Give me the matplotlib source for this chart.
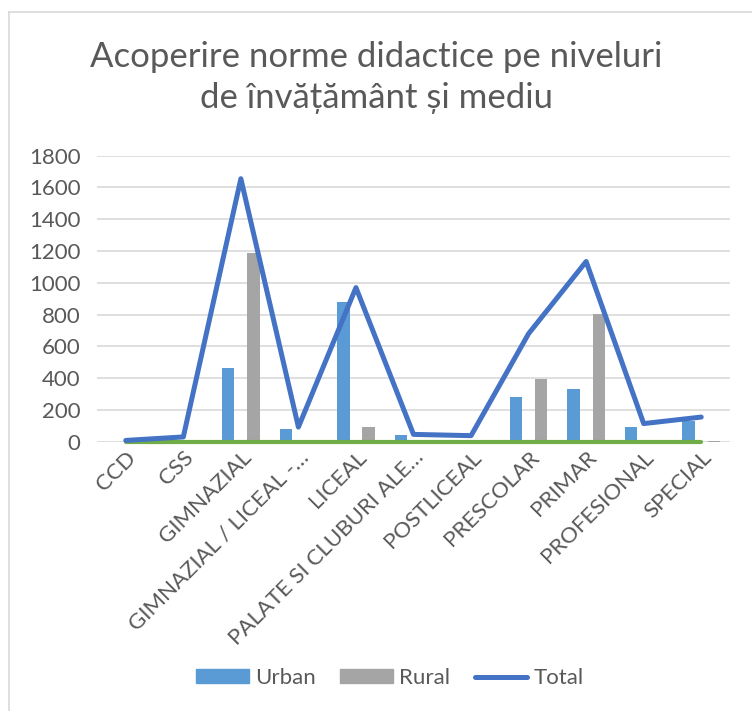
import numpy as np
import matplotlib
matplotlib.use("Agg")
import matplotlib.pyplot as plt
from matplotlib.patches import Patch
from matplotlib.lines import Line2D

# Data
categories = ["CCD", "CSS", "GIMNAZIAL", "GIMNAZIAL / LICEAL -…", "LICEAL",
              "PALATE SI CLUBURI ALE…", "POSTLICEAL", "PRESCOLAR", "PRIMAR",
              "PROFESIONAL", "SPECIAL"]
urban = [0, 0, 462, 83, 879, 40, 0, 281, 333, 94, 130]
rural = [0, 0, 1189, 0, 94, 0, 0, 396, 801, 10, 5]
total = [8, 30, 1655, 92, 970, 46, 38, 680, 1134, 114, 155]
zero_line = [0] * len(categories)

plt.rcParams["font.family"] = ["Lato", "DejaVu Sans"]
text_col = "#595959"
W, H = 752, 711

fig = plt.figure(figsize=(W / 100, H / 100), dpi=100)
# chart frame (only left and top edges are visible in the crop)
fig.add_artist(Line2D([9 / W, 9 / W], [0, 1 - 12 / H], transform=fig.transFigure,
                      color="#D9D9D9", lw=1.2))
fig.add_artist(Line2D([9 / W, 1], [1 - 12 / H, 1 - 12 / H], transform=fig.transFigure,
                      color="#D9D9D9", lw=1.2))

ax = fig.add_axes([97 / W, 1 - 441.7 / H, 633 / W, 286 / H])
x = np.arange(len(categories))
w = 0.217
ax.bar(x - 0.22, urban, w, color="#5B9BD5", zorder=2)
ax.bar(x + 0.22, rural, w, color="#A5A5A5", zorder=2)
ax.plot(x, zero_line, color="#70AD47", lw=3, solid_capstyle="round", zorder=3, clip_on=False)
ax.plot(x, total, color="#4472C4", lw=3.6, solid_capstyle="round", zorder=4, clip_on=False)

ax.set_xlim(-0.5, len(categories) - 0.5)
ax.set_ylim(0, 1800)
ax.set_yticks(range(0, 1801, 200))
ax.grid(axis="y", color="#D9D9D9", lw=1.2, zorder=0)
ax.set_axisbelow(True)
for s in ax.spines.values():
    s.set_visible(False)
ax.tick_params(axis="both", length=0, colors=text_col, labelsize=16)
ax.tick_params(axis="y", pad=12)
ax.tick_params(axis="x", pad=4)
ax.set_xticks(x)
ax.set_xticklabels(categories, rotation=45, ha="right", rotation_mode="anchor")

fig.text(0.5, 1 - 67 / H, "Acoperire norme didactice pe niveluri",
         ha="center", va="baseline", fontsize=25, color=text_col)
fig.text(0.5, 1 - 108 / H, "de învățământ și mediu",
         ha="center", va="baseline", fontsize=25, color=text_col)

handles = [Patch(color="#5B9BD5"), Patch(color="#A5A5A5"),
           Line2D([0], [0], color="#4472C4", lw=3.6, solid_capstyle="round")]
fig.legend(handles, ["Urban", "Rural", "Total"], loc="center",
           bbox_to_anchor=(0.5 + 14 / W, 1 - 678 / H), ncol=3, frameon=False,
           fontsize=16, labelcolor=text_col, handlelength=2.35, handleheight=0.6,
           columnspacing=1.1, handletextpad=0.3)

fig.savefig("out.png", dpi=100)
